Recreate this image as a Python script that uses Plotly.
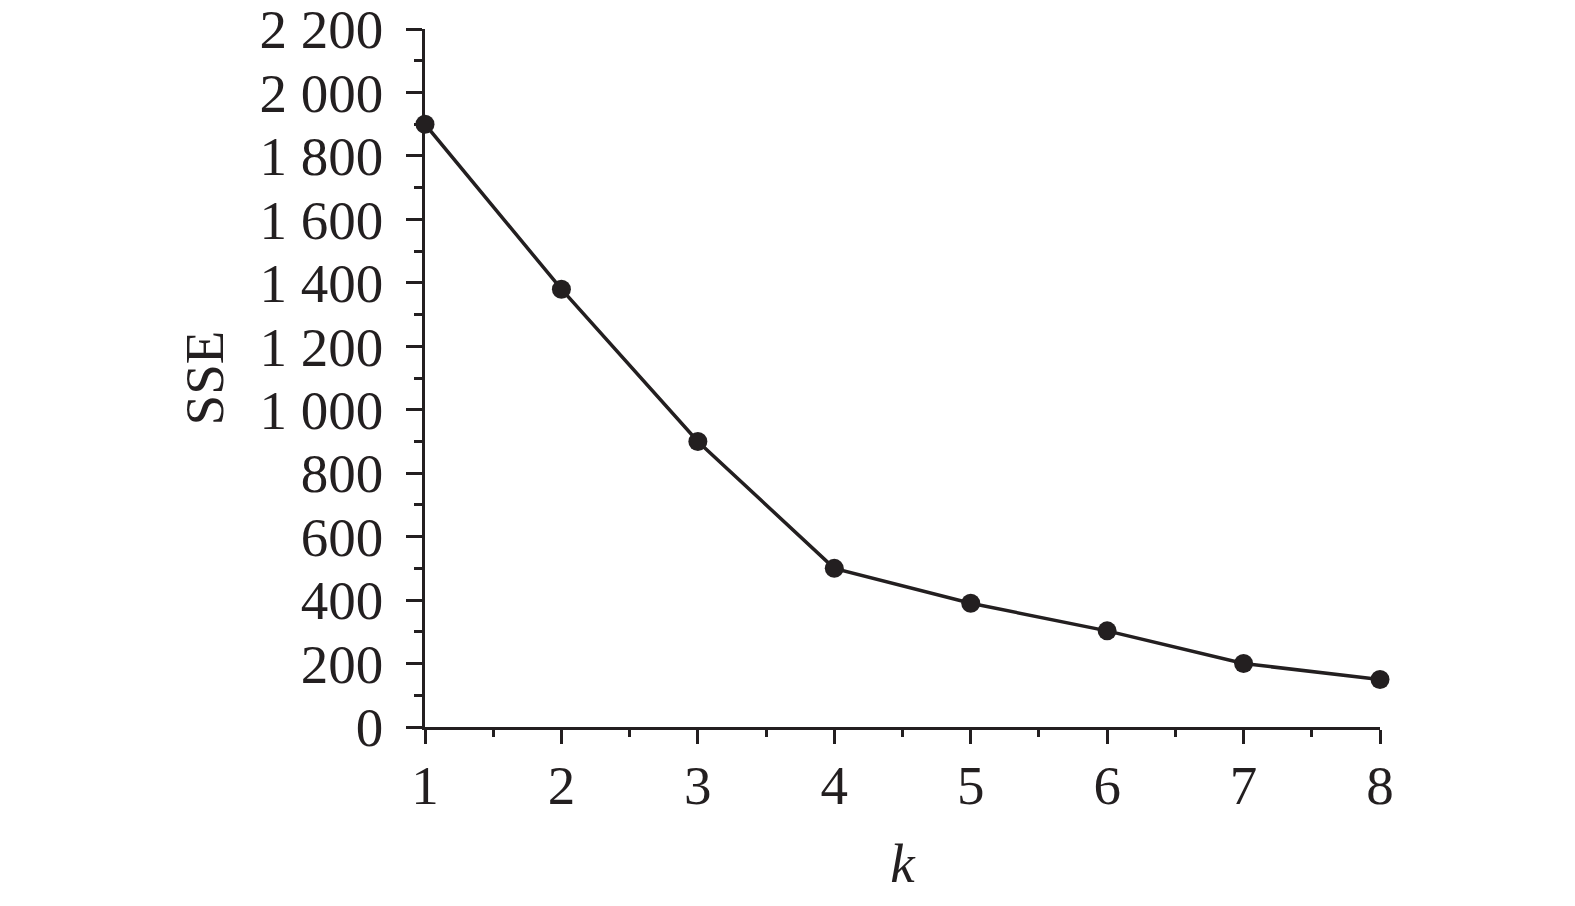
import plotly.graph_objects as go

k_values = [1, 2, 3, 4, 5, 6, 7, 8]
sse_values = [1900, 1380, 900, 500, 390, 303, 200, 150]

INK = "#231f20"
FONT = "Liberation Serif, Times New Roman, serif"
FS = 55

fig = go.Figure()
fig.add_trace(go.Scatter(
    x=k_values, y=sse_values, mode="lines+markers",
    line=dict(color=INK, width=3.5),
    marker=dict(color=INK, size=19),
    cliponaxis=False, showlegend=False,
))

fig.update_layout(
    width=1575, height=906,
    margin=dict(l=417, r=203, t=21, b=187),
    paper_bgcolor="white", plot_bgcolor="white",
    separators=". ",
    font=dict(family=FONT, color=INK, size=FS),
    xaxis=dict(
        range=[1, 8], dtick=1, tick0=1,
        automargin=False,
        showgrid=False, zeroline=False,
        showline=True, linecolor=INK, linewidth=2.5,
        ticks="outside", ticklen=14, tickwidth=2.5, tickcolor=INK,
        ticklabelstandoff=-6,
        ticklabeloverflow="allow",
        minor=dict(dtick=0.5, tick0=1, ticks="outside", ticklen=7, tickwidth=2.5, tickcolor=INK, showgrid=False),
        tickfont=dict(family=FONT, size=FS, color=INK),
        title=dict(text="<i>k</i>", font=dict(family=FONT, size=FS, color=INK), standoff=29),
    ),
    yaxis=dict(
        range=[0, 2200], dtick=200, tick0=0,
        automargin=False,
        separatethousands=True,
        showgrid=False, zeroline=False,
        showline=True, linecolor=INK, linewidth=2.5,
        ticks="outside", ticklen=16, tickwidth=2.5, tickcolor=INK,
        ticklabelstandoff=12,
        ticklabeloverflow="allow",
        minor=dict(dtick=100, tick0=0, ticks="outside", ticklen=8, tickwidth=2.5, tickcolor=INK, showgrid=False),
        tickfont=dict(family=FONT, size=FS, color=INK),
        title=dict(text="SSE", font=dict(family=FONT, size=FS, color=INK), standoff=19),
    ),
)

fig.write_html("out.html")
